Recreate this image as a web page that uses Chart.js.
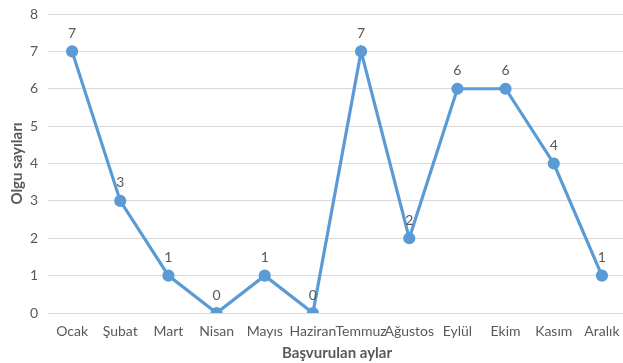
<!DOCTYPE html>
<html>
<head>
<meta charset="utf-8">
<script src="https://cdn.jsdelivr.net/npm/chart.js@4"></script>
<style>
  html, body { margin: 0; padding: 0; background: #fff; }
  #wrap { width: 623px; height: 363px; }
</style>
</head>
<body>
<div id="wrap"><canvas id="chart" width="623" height="363"></canvas></div>
<script>
const months = ['Ocak', 'Şubat', 'Mart', 'Nisan', 'Mayıs', 'Haziran', 'Temmuz', 'Ağustos', 'Eylül', 'Ekim', 'Kasım', 'Aralık'];
const cases = [7, 3, 1, 0, 1, 0, 7, 2, 6, 6, 4, 1];
const yTicks = [0, 1, 2, 3, 4, 5, 6, 7, 8];

const textColor = '#595959';
const lineColor = '#5B9BD5';
const fontFamily = "Lato, 'Liberation Sans', sans-serif";

// draws the value above each point
const valueLabels = {
  id: 'valueLabels',
  afterDatasetsDraw(chart) {
    const { ctx } = chart;
    const meta = chart.getDatasetMeta(0);
    ctx.save();
    ctx.fillStyle = textColor;
    ctx.font = '14px ' + fontFamily;
    ctx.textAlign = 'center';
    ctx.textBaseline = 'middle';
    meta.data.forEach((pt, i) => {
      ctx.fillText(String(cases[i]), pt.x, pt.y - 18);
    });
    ctx.restore();
  }
};

// plot area runs a bit past the right edge, like the original
const plotBox = {
  id: 'plotBox',
  afterLayout(chart) {
    const area = chart.chartArea;
    const x = chart.scales.x;
    const y = chart.scales.y;
    area.right = 626;
    area.top = 14;
    area.width = area.right - area.left;
    area.height = area.bottom - area.top;
    x.right = area.right;
    x.width = x.right - x.left;
    x.configure();
    y.top = area.top;
    y.height = y.bottom - y.top;
    y.configure();
  }
};

new Chart(document.getElementById('chart').getContext('2d'), {
  type: 'line',
  data: {
    labels: months,
    datasets: [{
      data: cases,
      borderColor: lineColor,
      backgroundColor: lineColor,
      borderWidth: 3.2,
      pointRadius: 4.5,
      pointHoverRadius: 4.5,
      tension: 0,
      fill: false,
    }],
  },
  options: {
    responsive: false,
    animation: false,
    layout: { padding: { top: 1, right: 0, left: 0, bottom: 0 } },
    plugins: { legend: { display: false }, tooltip: { enabled: false } },
    scales: {
      x: {
        offset: true,
        grid: { display: false },
        border: { display: false },
        ticks: { color: textColor, font: { family: fontFamily, size: 14 }, padding: 2, maxRotation: 0, autoSkip: false },
        title: { display: true, text: 'Başvurulan aylar', color: textColor, font: { family: fontFamily, size: 15, weight: 'bold' }, padding: { top: 0, bottom: 1 } },
        afterFit: axis => { axis.height = 50; },
      },
      y: {
        min: 0,
        max: 8,
        afterBuildTicks: axis => { axis.ticks = yTicks.map(v => ({ value: v })); },
        grid: { color: '#d9d9d9', lineWidth: 1, drawTicks: false },
        border: { display: false },
        ticks: { color: textColor, font: { family: fontFamily, size: 14 }, padding: 10 },
        title: { display: true, text: 'Olgu sayıları', color: textColor, font: { family: fontFamily, size: 15, weight: 'bold' }, padding: { top: 8, bottom: 2 } },
        afterFit: axis => { axis.width = 48; },
      },
    },
  },
  plugins: [plotBox, valueLabels],
});
</script>
</body>
</html>
